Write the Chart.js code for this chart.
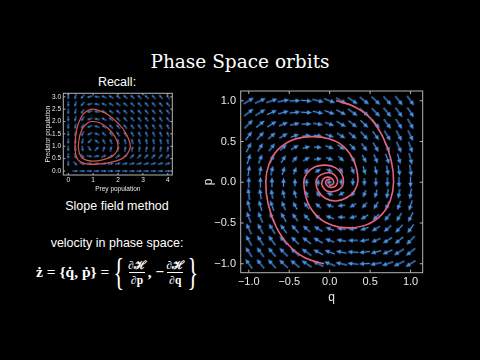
<!DOCTYPE html>
<html><head><meta charset="utf-8">
<script src="https://cdn.jsdelivr.net/npm/chart.js@4/dist/chart.umd.min.js"></script>
<style>
html,body{margin:0;padding:0;background:#000;width:480px;height:360px;overflow:hidden}
.t{position:absolute;color:#fff;white-space:nowrap;font-family:"Liberation Sans",Arial,sans-serif;font-size:12.5px;line-height:15px;text-align:center}
canvas{position:absolute;left:0;top:0}
#eq{position:absolute;left:36px;top:253px;height:38px;display:flex;align-items:center;color:#fff;font-family:"Liberation Serif","DejaVu Serif",serif;font-weight:bold;font-size:15.5px;white-space:nowrap}
.fr{display:inline-flex;flex-direction:column;align-items:center;font-size:11.5px;line-height:14px;margin:0 2px}
.den{border-top:1px solid #fff;padding:0 2px}
.br{font-size:37px;font-weight:normal;line-height:37px;display:inline-block;transform:scaleX(0.6);margin:0 -2px}
</style></head><body>
<div class="t" style="left:0;width:480px;top:52px;font-family:'DejaVu Serif',serif;font-size:18.5px;line-height:20px">Phase Space orbits</div>
<div class="t" style="left:17px;width:200px;top:75px">Recall:</div>
<div class="t" style="left:17px;width:200px;top:199px">Slope field method</div>
<div class="t" style="left:17px;width:200px;top:236px">velocity in phase space:</div>
<div id="eq"><span>ż = {q̇, ṗ} =</span><span class="br" style="margin-left:1px">{</span><span class="fr"><span>∂ℋ</span><span class="den">∂p</span></span><span>, −</span><span class="fr"><span>∂ℋ</span><span class="den">∂q</span></span><span class="br">}</span></div>
<canvas id="main" width="480" height="360"></canvas>
<canvas id="inset" width="480" height="360"></canvas>
<script>
// ---------- main phase-space chart data ----------
const qTickValues = [-1.0, -0.5, 0.0, 0.5, 1.0];
const qTickLabels = ['−1.0', '−0.5', '0.0', '0.5', '1.0'];
const pTickValues = [-1.0, -0.5, 0.0, 0.5, 1.0];
const pTickLabels = ['−1.0', '−0.5', '0.0', '0.5', '1.0'];
const fieldQ = [-1.0, -0.857, -0.714, -0.571, -0.429, -0.286, -0.143, 0.0, 0.143, 0.286, 0.429, 0.571, 0.714, 0.857, 1.0];
const fieldP = [-1.0, -0.857, -0.714, -0.571, -0.429, -0.286, -0.143, 0.0, 0.143, 0.286, 0.429, 0.571, 0.714, 0.857, 1.0];
const damping = 0.38;
// spiral orbit, arm starting at top
const spiralAQ = [0.08, 0.30, 0.50, 0.66, 0.76, 0.79, 0.75, 0.64, 0.46, 0.24, 0.04, -0.14, -0.27, -0.32, -0.28, -0.18, -0.05, 0.07, 0.15, 0.17, 0.14, 0.06, -0.03, -0.09, -0.095, -0.06, 0.00, 0.04, 0.05, 0.02, -0.01];
const spiralAP = [1.00, 0.93, 0.79, 0.55, 0.27, 0.00, -0.22, -0.40, -0.52, -0.56, -0.53, -0.43, -0.25, 0.00, 0.11, 0.19, 0.21, 0.18, 0.10, 0.00, -0.07, -0.11, -0.11, -0.05, 0.01, 0.055, 0.06, 0.03, -0.01, -0.035, -0.03];
// spiral orbit, arm starting at bottom
const spiralBQ = [-0.07, -0.30, -0.50, -0.66, -0.76, -0.79, -0.75, -0.64, -0.46, -0.22, 0.00, 0.17, 0.30, 0.35, 0.31, 0.21, 0.08, -0.05, -0.14, -0.17, -0.14, -0.06, 0.03, 0.09, 0.095, 0.06, 0.00, -0.04, -0.05, -0.02, 0.01];
const spiralBP = [-1.00, -0.93, -0.78, -0.55, -0.27, 0.01, 0.22, 0.40, 0.52, 0.56, 0.53, 0.44, 0.26, 0.03, -0.10, -0.19, -0.23, -0.20, -0.11, 0.00, 0.07, 0.11, 0.11, 0.05, -0.01, -0.055, -0.06, -0.03, 0.01, 0.035, 0.03];

// ---------- inset predator-prey chart data ----------
const preyTickValues = [0, 1, 2, 3, 4];
const preyTickLabels = ['0', '1', '2', '3', '4'];
const predTickValues = [0.0, 0.5, 1.0, 1.5, 2.0, 2.5, 3.0];
const predTickLabels = ['0.0', '0.5', '1.0', '1.5', '2.0', '2.5', '3.0'];
const preyGrid = [0, 0.286, 0.571, 0.857, 1.143, 1.429, 1.714, 2.0, 2.286, 2.571, 2.857, 3.143, 3.429, 3.714, 4.0];
const predGrid = [0, 0.3, 0.6, 0.9, 1.2, 1.5, 1.8, 2.1, 2.4, 2.7, 3.0];
const outerPrey = [0.27, 0.30, 0.40, 0.60, 0.80, 1.00, 1.30, 1.60, 2.00, 2.30, 2.49, 2.30, 2.00, 1.60, 1.30, 1.00, 0.80, 0.60, 0.40, 0.30, 0.27];
const outerPred = [1.00, 1.43, 1.91, 2.30, 2.45, 2.50, 2.42, 2.27, 1.93, 1.55, 1.00, 0.60, 0.43, 0.33, 0.29, 0.27, 0.28, 0.32, 0.44, 0.67, 1.00];
const innerPrey = [0.40, 0.45, 0.50, 0.60, 0.80, 1.00, 1.30, 1.60, 1.80, 1.95, 2.00, 1.95, 1.80, 1.60, 1.30, 1.00, 0.80, 0.60, 0.50, 0.45, 0.40];
const innerPred = [1.00, 1.38, 1.55, 1.76, 1.96, 2.00, 1.93, 1.72, 1.50, 1.23, 1.00, 0.80, 0.62, 0.52, 0.43, 0.40, 0.42, 0.50, 0.60, 0.70, 1.00];

// ---------- helpers ----------
const arrowCache = {};
function arrowImg(len, color, lw, head) {
  const key = len + color + lw + head;
  if (arrowCache[key]) return arrowCache[key];
  const size = len + 4;
  const c = document.createElement('canvas');
  c.width = size; c.height = size;
  const g = c.getContext('2d');
  const cx = size / 2, cy = size / 2;
  g.strokeStyle = color; g.fillStyle = color; g.lineWidth = lw;
  g.beginPath(); g.moveTo(cx - len / 2, cy); g.lineTo(cx + len / 2 - head + 0.5, cy); g.stroke();
  g.beginPath(); g.moveTo(cx + len / 2, cy); g.lineTo(cx + len / 2 - head, cy - head * 0.45); g.lineTo(cx + len / 2 - head, cy + head * 0.45); g.closePath(); g.fill();
  arrowCache[key] = c;
  return c;
}
function zipPts(xs, ys) { return xs.map((x, i) => ({x: x, y: ys[i]})); }

const framePlugin = {
  id: 'frame',
  afterDatasetsDraw(chart, args, opts) {
    const {ctx, chartArea: a, scales} = chart;
    ctx.save();
    ctx.strokeStyle = opts.color; ctx.lineWidth = 1;
    ctx.strokeRect(a.left, a.top, a.width, a.height);
    const L = opts.tick;
    ctx.beginPath();
    opts.xTicks.forEach(v => { const x = scales.x.getPixelForValue(v); ctx.moveTo(x, a.bottom); ctx.lineTo(x, a.bottom - L); ctx.moveTo(x, a.top); ctx.lineTo(x, a.top + L); });
    opts.yTicks.forEach(v => { const y = scales.y.getPixelForValue(v); ctx.moveTo(a.left, y); ctx.lineTo(a.left + L, y); ctx.moveTo(a.right, y); ctx.lineTo(a.right - L, y); });
    ctx.stroke();
    ctx.restore();
  }
};

// ---------- main chart ----------
const velocity = (q, p) => [p, -q - damping * p];
const fieldArrows = [];
fieldQ.forEach(q => fieldP.forEach(p => {
  const [dq, dp] = velocity(q, p);
  const mag = Math.hypot(dq, dp);
  fieldArrows.push({x: q, y: p, rot: Math.atan2(-dp, dq) * 180 / Math.PI, len: Math.round(6 + 6 * Math.min(1, mag / 1.1))});
}));
const arrowBlue = 'rgb(72,146,232)';
const spiralColor = '#e3637d';
const tickFontMain = {family: 'Liberation Sans', size: 11};
function labelFor(values, labels) { return v => { const i = values.findIndex(t => Math.abs(t - v) < 1e-9); return i >= 0 ? labels[i] : ''; }; }

new Chart(document.getElementById('main'), {
  type: 'scatter',
  data: {datasets: [
    {data: zipPts(spiralAQ, spiralAP), showLine: true, tension: 0.4, borderColor: spiralColor, borderWidth: 1.6, pointRadius: 0},
    {data: zipPts(spiralBQ, spiralBP), showLine: true, tension: 0.4, borderColor: spiralColor, borderWidth: 1.6, pointRadius: 0},
    {data: fieldArrows, showLine: false, pointRadius: 5,
      pointStyle: c => c.raw ? arrowImg(c.raw.len, arrowBlue, 1.3, 5) : 'circle',
      rotation: c => c.raw ? c.raw.rot : 0}
  ]},
  options: {
    responsive: false, animation: false, devicePixelRatio: 1,
    layout: {padding: {left: 195, top: 91, right: 57.3, bottom: 52.3}},
    plugins: {legend: {display: false}, tooltip: {enabled: false},
      frame: {color: '#b4b4b4', tick: 3, xTicks: qTickValues, yTicks: pTickValues}},
    scales: {
      x: {type: 'linear', min: -1.1, max: 1.15,
        afterBuildTicks: s => { s.ticks = qTickValues.map(v => ({value: v})); },
        afterFit: s => { s.height = 35; },
        ticks: {callback: labelFor(qTickValues, qTickLabels), color: '#e8e8e8', font: tickFontMain, padding: 2.4, maxRotation: 0, autoSkip: false},
        grid: {display: false, drawTicks: false}, border: {display: false},
        title: {display: true, text: 'q', color: '#e8e8e8', font: {family: 'Liberation Sans', size: 12}, padding: {top: 0, bottom: 2.5}}},
      y: {type: 'linear', min: -1.11, max: 1.12,
        afterBuildTicks: s => { s.ticks = pTickValues.map(v => ({value: v})); },
        afterFit: s => { s.width = 45.7; },
        ticks: {callback: labelFor(pTickValues, pTickLabels), color: '#e8e8e8', font: tickFontMain, padding: 4.7, autoSkip: false},
        grid: {display: false, drawTicks: false}, border: {display: false},
        title: {display: true, text: 'p', color: '#e8e8e8', font: {family: 'Liberation Sans', size: 12}, padding: {top: 6.8, bottom: 0}}}
    }
  },
  plugins: [framePlugin]
});

// ---------- inset chart ----------
const lvVelocity = (x, y) => [x - x * y, x * y - y];
const lvArrows = [];
preyGrid.forEach(x => predGrid.forEach(y => {
  const [dx, dy] = lvVelocity(x, y);
  if (Math.hypot(dx, dy) < 1e-9) return;
  lvArrows.push({x: x, y: y, rot: Math.atan2(-dy, dx) * 180 / Math.PI, len: 6});
}));
const lvBlue = 'rgb(62,136,220)';
const orbitColor = '#dc5443';
const tickFontInset = {family: 'Liberation Sans', size: 6.5};

new Chart(document.getElementById('inset'), {
  type: 'scatter',
  data: {datasets: [
    {data: zipPts(outerPrey, outerPred), showLine: true, tension: 0.4, borderColor: orbitColor, borderWidth: 1.2, pointRadius: 0},
    {data: zipPts(innerPrey, innerPred), showLine: true, tension: 0.4, borderColor: orbitColor, borderWidth: 1.2, pointRadius: 0},
    {data: lvArrows, showLine: false, pointRadius: 3,
      pointStyle: c => c.raw ? arrowImg(c.raw.len, lvBlue, 1.1, 3) : 'circle',
      rotation: c => c.raw ? c.raw.rot : 0}
  ]},
  options: {
    responsive: false, animation: false, devicePixelRatio: 1,
    layout: {padding: {left: 40, top: 93.3, right: 307.7, bottom: 165}},
    plugins: {legend: {display: false}, tooltip: {enabled: false},
      frame: {color: '#b4b4b4', tick: 2, xTicks: preyTickValues, yTicks: predTickValues}},
    scales: {
      x: {type: 'linear', min: -0.2, max: 4.18,
        afterBuildTicks: s => { s.ticks = preyTickValues.map(v => ({value: v})); },
        afterFit: s => { s.height = 20; },
        ticks: {callback: labelFor(preyTickValues, preyTickLabels), color: '#e8e8e8', font: tickFontInset, padding: 1, maxRotation: 0, autoSkip: false},
        grid: {display: false, drawTicks: false}, border: {display: false},
        title: {display: true, text: 'Prey population', color: '#e8e8e8', font: tickFontInset, padding: {top: 0, bottom: 1.8}}},
      y: {type: 'linear', min: -0.16, max: 3.14,
        afterBuildTicks: s => { s.ticks = predTickValues.map(v => ({value: v})); },
        afterFit: s => { s.width = 23.3; },
        ticks: {callback: labelFor(predTickValues, predTickLabels), color: '#e8e8e8', font: tickFontInset, padding: 2.3, autoSkip: false},
        grid: {display: false, drawTicks: false}, border: {display: false},
        title: {display: true, text: 'Predator population', color: '#e8e8e8', font: tickFontInset, padding: {top: 4.4, bottom: 0}}}
    }
  },
  plugins: [framePlugin]
});
</script>
</body></html>
